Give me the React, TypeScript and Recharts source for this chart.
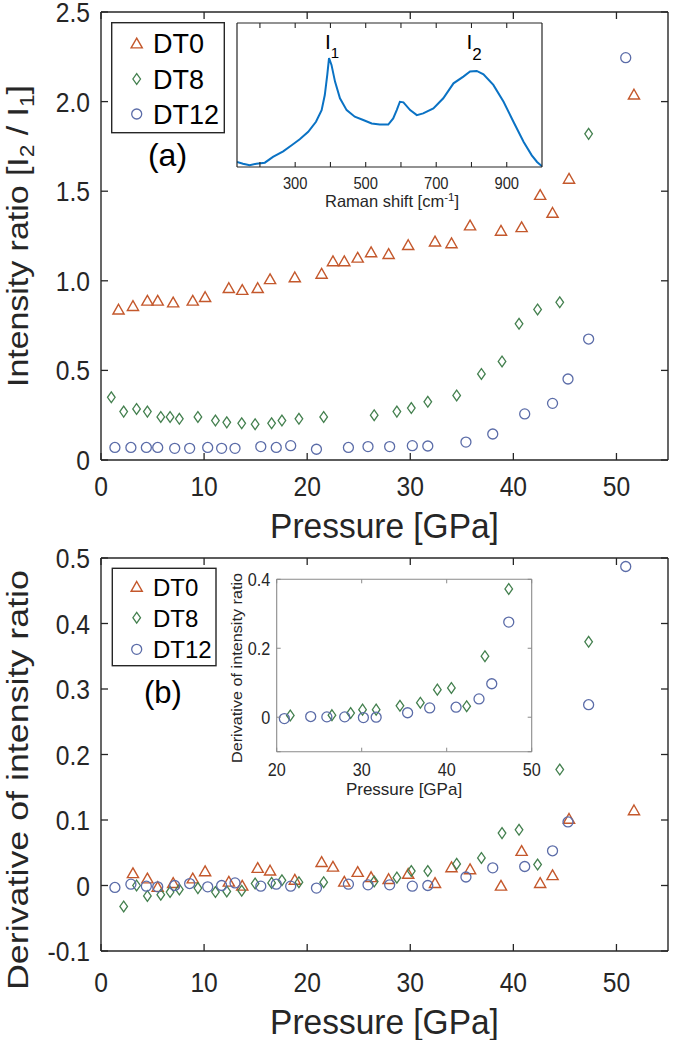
import React from "react";
import { ScatterChart, Scatter, LineChart, Line, XAxis, YAxis } from "recharts";

// pressure in GPa, ratio I2/I1 and its derivative
const dt0Pressure = [1.7, 3.1, 4.5, 5.5, 7.0, 8.9, 10.1, 12.4, 13.7, 15.2, 16.4, 18.8, 21.4, 22.5, 23.6, 24.9, 26.2, 27.9, 29.8, 32.4, 34.0, 35.8, 38.8, 40.8, 42.6, 43.8, 45.4, 51.7];
const dt0Ratio = [0.84, 0.86, 0.89, 0.89, 0.88, 0.89, 0.91, 0.96, 0.95, 0.96, 1.01, 1.02, 1.04, 1.11, 1.11, 1.13, 1.16, 1.15, 1.2, 1.22, 1.21, 1.31, 1.28, 1.3, 1.48, 1.38, 1.57, 2.04];
const dt0Deriv = [null, 0.019, 0.011, -0.002, 0.004, 0.011, 0.022, 0.006, 0.0, 0.027, 0.023, 0.009, 0.036, 0.029, 0.006, 0.021, 0.013, 0.01, 0.018, 0.004, 0.028, 0.025, 0.0, 0.053, 0.004, 0.016, 0.102, 0.115];

const dt8Pressure = [1.0, 2.2, 3.45, 4.5, 5.8, 6.7, 7.6, 9.4, 11.1, 12.2, 13.65, 14.95, 16.55, 17.55, 19.2, 21.6, 26.5, 28.7, 30.1, 31.7, 34.5, 36.9, 38.9, 40.55, 42.35, 44.5, 47.3];
const dt8Ratio = [0.35, 0.27, 0.285, 0.27, 0.24, 0.24, 0.23, 0.24, 0.22, 0.21, 0.205, 0.2, 0.205, 0.22, 0.23, 0.24, 0.25, 0.27, 0.29, 0.325, 0.36, 0.48, 0.55, 0.76, 0.84, 0.88, 1.82];
const dt8Deriv = [null, -0.032, 0.0, -0.016, -0.014, -0.01, -0.006, -0.004, -0.01, -0.009, -0.008, 0.003, 0.004, 0.008, 0.005, 0.005, 0.006, 0.012, 0.022, 0.022, 0.033, 0.042, 0.08, 0.085, 0.032, 0.177, 0.372];

const dt12Pressure = [1.35, 2.9, 4.4, 5.5, 7.15, 8.6, 10.35, 11.7, 13.0, 15.5, 17.0, 18.4, 20.9, 24.0, 25.9, 28.0, 30.2, 31.7, 35.4, 38.0, 41.1, 43.8, 45.3, 47.3, 50.9];
const dt12Ratio = [0.07, 0.07, 0.07, 0.07, 0.065, 0.065, 0.07, 0.065, 0.065, 0.075, 0.07, 0.08, 0.06, 0.07, 0.075, 0.075, 0.08, 0.078, 0.1, 0.145, 0.257, 0.316, 0.452, 0.675, 2.245];
const dt12Deriv = [-0.003, 0.002, -0.001, -0.002, 0.0, 0.003, -0.002, 0.0, 0.004, -0.001, 0.002, -0.001, -0.004, 0.002, 0.001, 0.001, -0.001, 0.0, 0.013, 0.027, 0.029, 0.053, 0.097, 0.276, 0.487];

// inset (a): Raman spectrum
const ramanShift = [135, 152, 171, 190, 214, 237, 266, 290, 313, 337, 359, 375, 384, 391, 396, 403, 413, 427, 446, 469, 493, 517, 540, 564, 578, 588, 597, 607, 626, 645, 663, 692, 720, 749, 777, 796, 815, 834, 862, 891, 919, 948, 971, 986, 1000];
const ramanIntensity = [0.035, 0.023, 0.012, 0.023, 0.03, 0.07, 0.109, 0.151, 0.193, 0.244, 0.314, 0.395, 0.5, 0.64, 0.756, 0.709, 0.593, 0.477, 0.395, 0.349, 0.326, 0.302, 0.295, 0.295, 0.337, 0.395, 0.453, 0.449, 0.395, 0.36, 0.372, 0.407, 0.477, 0.581, 0.628, 0.663, 0.667, 0.644, 0.57, 0.453, 0.314, 0.174, 0.081, 0.035, 0.005];

const pressureTicks = [0, 10, 20, 30, 40, 50];
const ratioTicks = [0, 0.5, 1.0, 1.5, 2.0, 2.5];
const derivTicks = [-0.1, 0, 0.1, 0.2, 0.3, 0.4, 0.5];
const ramanTicks = [200, 300, 400, 500, 600, 700, 800, 900];
const ramanLabelled = [300, 500, 700, 900];
const insetPTicks = [20, 30, 40, 50];
const insetDTicks = [-0.1, 0, 0.2, 0.4];

const INK = "#262626";
const GREY = "#8a8a8a";
const FONT = "'Liberation Sans', Arial, Helvetica, sans-serif";
const C0 = "#c4582c";
const C8 = "#44804f";
const C12 = "#5b6ca8";

const pts = (p: number[], v: (number | null)[]) =>
  p.map((x, i) => ({ p: x, v: v[i] })).filter((d) => d.v !== null);

const Tri = ({ cx, cy }: any) =>
  cx == null ? <g /> : (
    <path d={`M${cx},${cy - 5.2} L${cx + 5.6},${cy + 4.6} L${cx - 5.6},${cy + 4.6} Z`} fill="none" stroke={C0} strokeWidth={1.4} />
  );
const Dia = ({ cx, cy }: any) =>
  cx == null ? <g /> : (
    <path d={`M${cx},${cy - 5.4} L${cx + 3.8},${cy} L${cx},${cy + 5.4} L${cx - 3.8},${cy} Z`} fill="none" stroke={C8} strokeWidth={1.3} />
  );
const Cir = ({ cx, cy }: any) =>
  cx == null ? <g /> : <circle cx={cx} cy={cy} r={5} fill="none" stroke={C12} strokeWidth={1.3} />;
const NoMark = () => <g />;

// tick with tickSize=0 / tickMargin=0 => (x, y) sits on the axis line; draw an inward mark plus optional label
type TickOpts = {
  line: [number, number];
  color?: string;
  lw?: number;
  label?: { dx: number; dy: number; size: number; anchor: "start" | "middle" | "end"; sx: number; fmt: (v: number) => string; show?: (v: number) => boolean };
};
function makeTick(o: TickOpts) {
  return (props: any) => {
    const { x, y, payload } = props;
    const l = o.label;
    const showLabel = l && (!l.show || l.show(payload.value));
    return (
      <g>
        <line x1={x} y1={y} x2={x + o.line[0]} y2={y + o.line[1]} stroke={o.color || INK} strokeWidth={o.lw || 1.3} />
        {showLabel && (
          <text transform={`translate(${x + l!.dx},${y + l!.dy}) scale(${l!.sx},1)`} textAnchor={l!.anchor} fontSize={l!.size} fill={INK} fontFamily={FONT}>
            {l!.fmt(payload.value)}
          </text>
        )}
      </g>
    );
  };
}

const fmtInt = (v: number) => String(v);
const fmtRatio = (v: number) => (v === 0 ? "0" : v.toFixed(1));
const fmtDeriv = (v: number) => (Math.abs(v) < 1e-9 ? "0" : String(v));

const axisLine = { stroke: INK, strokeWidth: 1.4 };
const flat = { tickSize: 0, tickMargin: 0, tickLine: false, interval: 0 as const, allowDataOverflow: true, type: "number" as const };

// mirror axes (top / right) get a size of 1px: zero-sized axes are not drawn
function MainPanel({ top, height, marginTop, xAxisHeight, xLabelDy, yDomain, yTicks, yFmt, series }: any) {
  return (
    <div style={{ position: "absolute", left: 0, top }}>
      <ScatterChart width={675} height={height} margin={{ top: marginTop - 1, right: 6, bottom: 0, left: 0 }}>
        <XAxis {...flat} dataKey="p" domain={[0, 55]} ticks={pressureTicks} height={xAxisHeight} axisLine={axisLine}
          tick={makeTick({ line: [0, -7], label: { dx: 0, dy: xLabelDy, size: 28, anchor: "middle", sx: 0.88, fmt: fmtInt } })} />
        <XAxis {...flat} xAxisId="top" orientation="top" dataKey="p" domain={[0, 55]} ticks={pressureTicks} height={1} axisLine={axisLine}
          tick={makeTick({ line: [0, 7] })} />
        <YAxis {...flat} dataKey="v" domain={yDomain} ticks={yTicks} width={101} axisLine={axisLine}
          tick={makeTick({ line: [7, 0], label: { dx: -11, dy: 10, size: 28, anchor: "end", sx: 0.88, fmt: yFmt } })} />
        <YAxis {...flat} yAxisId="right" orientation="right" dataKey="v" domain={yDomain} ticks={yTicks} width={1} axisLine={axisLine}
          tick={makeTick({ line: [-7, 0] })} />
        <Scatter data={series[0]} shape={Tri} isAnimationActive={false} />
        <Scatter data={series[1]} shape={Dia} isAnimationActive={false} />
        <Scatter data={series[2]} shape={Cir} isAnimationActive={false} />
        <Scatter xAxisId="top" yAxisId="right" data={series[0]} shape={NoMark} isAnimationActive={false} />
      </ScatterChart>
    </div>
  );
}

function SpectrumInset() {
  const data = ramanShift.map((w, i) => ({ w, v: ramanIntensity[i] }));
  const ax = { stroke: INK, strokeWidth: 1.2 };
  return (
    <div style={{ position: "absolute", left: 200, top: 0 }}>
      <LineChart width={360} height={215} data={data} margin={{ top: 22, right: 17, bottom: 0, left: 0 }}>
        <XAxis {...flat} dataKey="w" domain={[135, 1000]} ticks={ramanTicks} height={48} axisLine={ax}
          tick={makeTick({ line: [0, -5], lw: 1.1, label: { dx: 0, dy: 22, size: 16, anchor: "middle", sx: 0.92, fmt: fmtInt, show: (v) => ramanLabelled.includes(v) } })} />
        <XAxis {...flat} xAxisId="top" orientation="top" dataKey="w" domain={[135, 1000]} ticks={ramanTicks} height={1} axisLine={ax}
          tick={makeTick({ line: [0, 5], lw: 1.1 })} />
        <YAxis type="number" domain={[0, 1]} width={37} axisLine={ax} tickLine={false} tick={false} />
        <YAxis yAxisId="right" orientation="right" type="number" domain={[0, 1]} width={1} axisLine={ax} tickLine={false} tick={false} />
        <Line dataKey="v" stroke="#0a72c4" strokeWidth={2} dot={false} type="linear" isAnimationActive={false} />
        <Line xAxisId="top" yAxisId="right" dataKey="v" stroke="none" dot={false} isAnimationActive={false} />
      </LineChart>
    </div>
  );
}

function DerivInset({ series }: any) {
  const ax = { stroke: GREY, strokeWidth: 1.1 };
  const inRange = (d: any) => d.p >= 20 && d.p <= 50 && d.v <= 0.4;
  return (
    <div style={{ position: "absolute", left: 220, top: 560 }}>
      <ScatterChart width={330} height={245} margin={{ top: 18.3, right: 17.3, bottom: 0, left: 0 }}>
        <XAxis {...flat} dataKey="p" domain={[20, 50]} ticks={insetPTicks} height={53.3} axisLine={ax}
          tick={makeTick({ line: [0, -4], color: GREY, lw: 1, label: { dx: 0, dy: 24, size: 18, anchor: "middle", sx: 0.9, fmt: fmtInt } })} />
        <XAxis {...flat} xAxisId="top" orientation="top" dataKey="p" domain={[20, 50]} ticks={insetPTicks} height={1} axisLine={ax}
          tick={makeTick({ line: [0, 4], color: GREY, lw: 1 })} />
        <YAxis {...flat} dataKey="v" domain={[-0.1, 0.4]} ticks={insetDTicks} width={56.7} axisLine={ax}
          tick={makeTick({ line: [4, 0], color: GREY, lw: 1, label: { dx: -6.5, dy: 6.5, size: 18, anchor: "end", sx: 0.9, fmt: fmtDeriv, show: (v) => v > -0.05 } })} />
        <YAxis {...flat} yAxisId="right" orientation="right" dataKey="v" domain={[-0.1, 0.4]} ticks={insetDTicks} width={1} axisLine={ax}
          tick={makeTick({ line: [-4, 0], color: GREY, lw: 1 })} />
        <Scatter data={series[1].filter(inRange)} shape={Dia} isAnimationActive={false} />
        <Scatter data={series[2].filter(inRange)} shape={Cir} isAnimationActive={false} />
        <Scatter xAxisId="top" yAxisId="right" data={series[1].filter(inRange)} shape={NoMark} isAnimationActive={false} />
      </ScatterChart>
    </div>
  );
}

function LegendBox({ x, y, w, h, rows, size }: any) {
  const names = ["DT0", "DT8", "DT12"];
  const marks = [Tri, Dia, Cir];
  return (
    <g>
      <rect x={x} y={y} width={w} height={h} fill="#fff" stroke={INK} strokeWidth={1.4} />
      {rows.map((r: number[], i: number) => {
        const M = marks[i];
        return (
          <g key={names[i]}>
            <M cx={136.7} cy={r[0]} />
            <text x={153} y={r[1]} fontSize={size} fill="#000" fontFamily={FONT}>{names[i]}</text>
          </g>
        );
      })}
    </g>
  );
}

export default function App() {
  const ratioSeries = [pts(dt0Pressure, dt0Ratio), pts(dt8Pressure, dt8Ratio), pts(dt12Pressure, dt12Ratio)];
  const derivSeries = [pts(dt0Pressure, dt0Deriv), pts(dt8Pressure, dt8Deriv), pts(dt12Pressure, dt12Deriv)];

  return (
    <div style={{ position: "absolute", left: 0, top: 0, width: 675, height: 1040, background: "#fff", overflow: "hidden" }}>
      <MainPanel top={0} height={545} marginTop={12} xAxisHeight={85} xLabelDy={36}
        yDomain={[0, 2.5]} yTicks={ratioTicks} yFmt={fmtRatio} series={ratioSeries} />
      <MainPanel top={528} height={512} marginTop={30} xAxisHeight={89} xLabelDy={41}
        yDomain={[-0.1, 0.5]} yTicks={derivTicks} yFmt={fmtDeriv} series={derivSeries} />
      <SpectrumInset />
      <DerivInset series={derivSeries} />

      <svg width={675} height={1040} style={{ position: "absolute", left: 0, top: 0, pointerEvents: "none" }}>
        {/* axis titles */}
        <text transform="translate(28,236) rotate(-90)" textAnchor="middle" fontSize={30} fill={INK} fontFamily={FONT}
          textLength={302} lengthAdjust="spacingAndGlyphs">
          Intensity ratio [I<tspan dy={6} fontSize={20}>2</tspan><tspan dy={-6}> / I</tspan><tspan dy={6} fontSize={20}>1</tspan><tspan dy={-6}>]</tspan>
        </text>
        <text transform="translate(28,780) rotate(-90)" textAnchor="middle" fontSize={30} fill={INK} fontFamily={FONT}
          textLength={420} lengthAdjust="spacingAndGlyphs">
          Derivative of intensity ratio
        </text>
        <text transform="translate(384.5,538) scale(0.93,1)" textAnchor="middle" fontSize={36} fill={INK} fontFamily={FONT}>Pressure [GPa]</text>
        <text transform="translate(384.5,1034) scale(0.93,1)" textAnchor="middle" fontSize={36} fill={INK} fontFamily={FONT}>Pressure [GPa]</text>

        {/* inset titles */}
        <text x={392} y={207} textAnchor="middle" fontSize={16.5} fill={INK} fontFamily={FONT}>
          Raman shift [cm<tspan dy={-6} fontSize={11.5}>-1</tspan><tspan dy={6}>]</tspan>
        </text>
        <text x={325} y={48.5} fontSize={21} fill="#000" fontFamily={FONT}>I<tspan dy={9.5} fontSize={15}>1</tspan></text>
        <text x={466.5} y={48.5} fontSize={21} fill="#000" fontFamily={FONT}>I<tspan dy={11} fontSize={17}>2</tspan></text>
        <text transform="translate(242,668) rotate(-90)" textAnchor="middle" fontSize={15} fill={INK} fontFamily={FONT}
          textLength={190} lengthAdjust="spacingAndGlyphs">
          Derivative of intensity ratio
        </text>
        <text x={404} y={795} textAnchor="middle" fontSize={17} fill={INK} fontFamily={FONT}>Pressure [GPa]</text>

        {/* legends and panel tags */}
        <LegendBox x={111.7} y={22.7} w={112.6} h={110} size={27} rows={[[43.3, 53], [79, 88.5], [114, 123.5]]} />
        <LegendBox x={112.3} y={568.3} w={103.7} h={97.4} size={24} rows={[[586.7, 595.5], [617.7, 626.5], [649.3, 658]]} />
        <text x={167.5} y={166} textAnchor="middle" fontSize={32} fill="#000" fontFamily={FONT}>(a)</text>
        <text x={163} y={703} textAnchor="middle" fontSize={31} fill="#000" fontFamily={FONT}>(b)</text>
      </svg>
    </div>
  );
}
